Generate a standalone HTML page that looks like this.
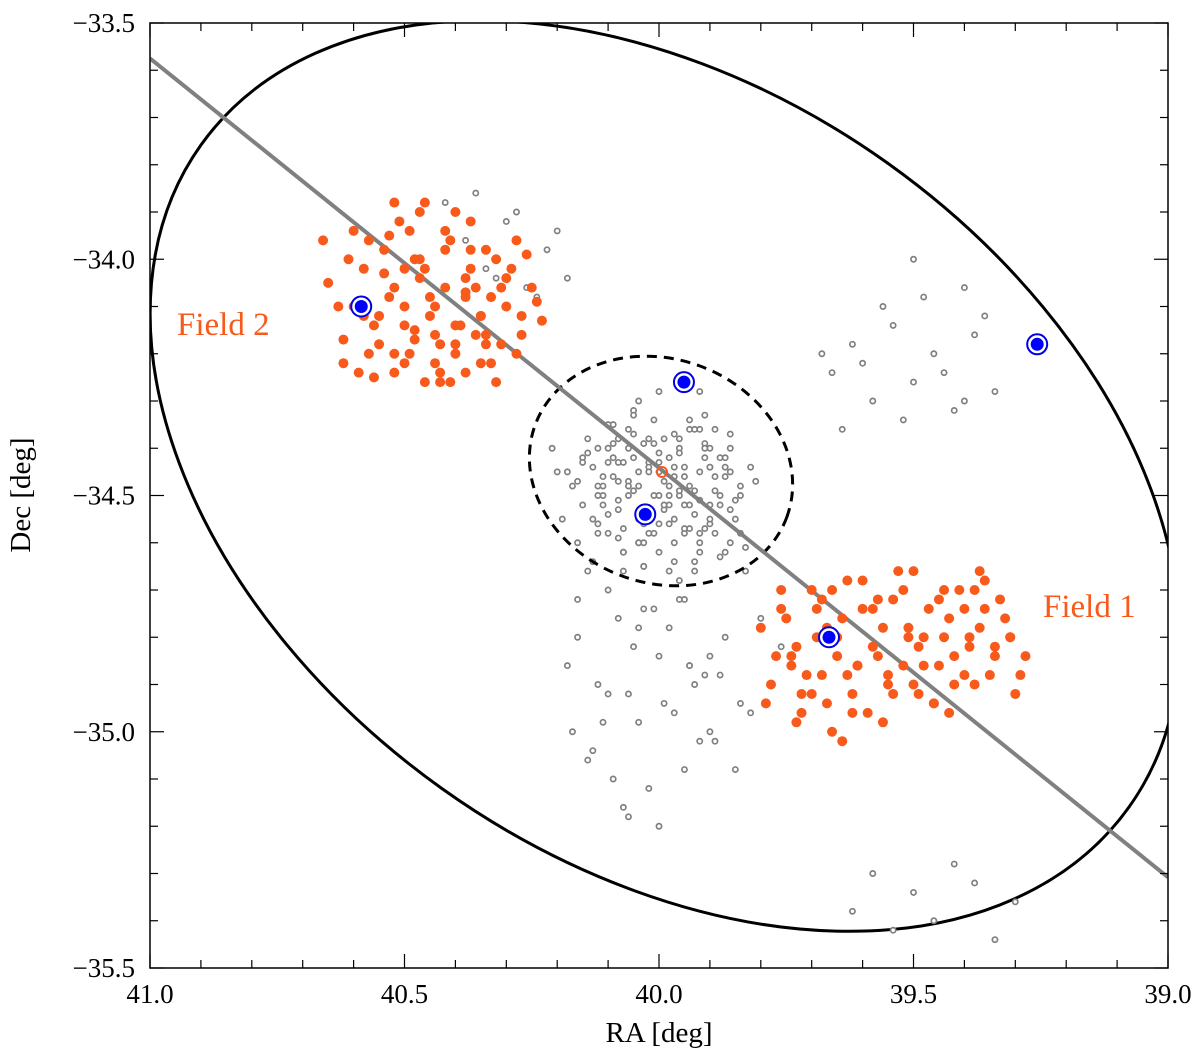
<!DOCTYPE html>
<html><head><meta charset="utf-8"><style>
html,body{margin:0;padding:0;background:#fff;width:1200px;height:1057px;overflow:hidden;}
svg{display:block;font-family:"Liberation Serif",serif;}
</style></head><body>
<svg id="chart" width="1200" height="1057" viewBox="0 0 1200 1057">
<defs><clipPath id="clip"><rect x="150" y="23" width="1018" height="945"/></clipPath></defs>
<g id="plot" clip-path="url(#clip)"></g>
<g id="axes"></g>
</svg>
<script>
const xTicks=[41.0,40.5,40.0,39.5,39.0];
const yTicks=[-33.5,-34.0,-34.5,-35.0,-35.5];
const f2RA=[40.66,40.65,40.62,40.60,40.58,40.57,40.55,40.53,40.52,40.50,40.48,40.47,40.45,40.43,40.42,40.40,40.38,40.37,40.35,40.33,40.32,40.30,40.28,40.27,40.25,40.23,40.62,40.60,40.58,40.56,40.54,40.52,40.50,40.48,40.46,40.44,40.42,40.40,40.38,40.36,40.34,40.32,40.30,40.28,40.26,40.24,40.63,40.61,40.59,40.57,40.55,40.53,40.51,40.49,40.47,40.45,40.43,40.41,40.39,40.37,40.35,40.33,40.31,40.29,40.27,40.56,40.54,40.52,40.50,40.48,40.46,40.44,40.42,40.40,40.38,40.36,40.34,40.50,40.47,40.44,40.41,40.38,40.35,40.52,40.49,40.46,40.43,40.40,40.37,40.34,40.31];
const f2Dec=[-33.96,-34.05,-34.17,-34.10,-34.02,-34.20,-34.12,-33.95,-34.06,-34.22,-34.15,-33.90,-34.08,-34.24,-33.98,-34.18,-34.04,-33.92,-34.12,-34.22,-34.00,-34.10,-33.96,-34.16,-34.06,-34.13,-34.22,-33.94,-34.12,-34.25,-34.03,-33.88,-34.14,-34.00,-34.26,-34.10,-33.94,-34.20,-34.07,-34.16,-33.98,-34.26,-34.04,-34.20,-33.99,-34.09,-34.10,-34.00,-34.24,-33.96,-34.18,-34.08,-33.92,-34.20,-34.04,-34.12,-34.26,-33.96,-34.14,-34.02,-34.22,-34.08,-34.18,-34.02,-34.12,-34.14,-33.98,-34.24,-34.02,-34.17,-33.88,-34.22,-34.06,-33.90,-34.24,-34.06,-34.18,-34.10,-34.00,-34.16,-34.26,-34.08,-34.12,-34.20,-33.94,-34.02,-34.18,-34.14,-33.98,-34.16,-34.06];
const f1RA=[39.80,39.78,39.76,39.74,39.72,39.70,39.68,39.66,39.64,39.62,39.60,39.58,39.56,39.54,39.52,39.50,39.48,39.46,39.44,39.42,39.40,39.38,39.36,39.34,39.32,39.30,39.28,39.77,39.75,39.73,39.71,39.69,39.67,39.65,39.63,39.61,39.59,39.57,39.55,39.53,39.51,39.49,39.47,39.45,39.43,39.41,39.39,39.37,39.35,39.33,39.31,39.29,39.79,39.76,39.73,39.70,39.67,39.64,39.61,39.58,39.55,39.52,39.49,39.46,39.43,39.40,39.37,39.34,39.31,39.72,39.69,39.66,39.63,39.60,39.57,39.54,39.51,39.48,39.45,39.42,39.39,39.36,39.68,39.62,39.56,39.50,39.44,39.38,39.74,39.65];
const f1Dec=[-34.78,-34.90,-34.74,-34.84,-34.96,-34.70,-34.88,-35.00,-34.76,-34.92,-34.68,-34.82,-34.98,-34.72,-34.86,-34.66,-34.80,-34.94,-34.70,-34.84,-34.74,-34.90,-34.68,-34.82,-34.76,-34.92,-34.84,-34.84,-34.76,-34.98,-34.88,-34.74,-34.94,-34.80,-34.68,-34.86,-34.96,-34.72,-34.88,-34.66,-34.80,-34.92,-34.74,-34.86,-34.96,-34.70,-34.82,-34.78,-34.88,-34.72,-34.80,-34.88,-34.94,-34.70,-34.82,-34.92,-34.78,-35.02,-34.86,-34.74,-34.90,-34.70,-34.82,-34.94,-34.76,-34.88,-34.66,-34.84,-34.80,-34.92,-34.80,-34.70,-34.88,-34.74,-34.84,-34.92,-34.78,-34.86,-34.72,-34.90,-34.80,-34.74,-34.72,-34.96,-34.78,-34.90,-34.80,-34.70,-34.86,-34.84];
const gRA=[40.18,40.15,40.12,40.10,40.08,40.06,40.04,40.02,40.00,39.98,39.96,39.94,39.92,39.90,39.88,39.86,39.84,40.16,40.13,40.11,40.09,40.07,40.05,40.03,40.01,39.99,39.97,39.95,39.93,39.91,39.89,39.87,39.85,40.14,40.12,40.10,40.08,40.06,40.04,40.02,40.00,39.98,39.96,39.94,39.92,39.90,39.88,40.17,40.13,40.09,40.05,40.01,39.97,39.93,39.89,40.19,40.11,40.07,40.03,39.99,39.95,39.91,39.87,40.15,40.10,40.05,40.00,39.95,39.90,40.12,40.07,40.02,39.97,39.92,40.08,40.03,39.98,39.93,40.20,40.04,39.96,39.83,39.86,40.21,40.14,40.00,39.92,
40.14,40.11,40.08,40.05,40.02,39.99,39.96,39.93,39.90,39.87,39.84,39.81,40.13,40.10,40.07,40.04,40.01,39.98,39.95,39.92,39.89,39.86,39.83,40.16,40.12,40.09,40.06,40.03,40.00,39.97,39.94,39.91,39.88,39.85,39.82,40.15,40.11,40.08,40.05,40.02,39.99,39.96,39.93,39.90,39.87,39.84,40.12,40.09,40.06,40.03,40.00,39.97,39.94,39.91,39.88,40.10,40.07,40.04,40.01,39.98,39.95,39.92,39.89,39.86,40.06,40.03,40.00,39.97,39.94,39.91,40.08,40.02,39.96,39.90,40.04,39.98,39.92,39.86,
40.16,40.12,40.08,40.04,40.00,39.96,39.92,39.88,39.84,40.14,40.10,40.06,40.02,39.98,39.94,39.90,40.18,40.11,40.03,39.95,39.87,40.07,39.99,39.91,40.13,40.05,39.97,40.09,40.01,39.93,40.17,39.89,40.06,40.16,39.94,39.80,39.78,39.76,39.82,39.85,40.00,39.95,39.90,40.10,40.04,
39.66,39.62,39.58,39.54,39.50,39.46,39.42,39.38,39.34,39.64,39.60,39.56,39.52,39.48,39.44,39.40,39.36,39.68,39.50,39.40,
40.42,40.38,40.34,40.30,40.26,40.22,40.18,40.36,40.28,40.20,40.24,40.32,
39.62,39.58,39.54,39.50,39.46,39.42,39.38,39.34,39.30];
const gDec=[-34.45,-34.52,-34.40,-34.58,-34.47,-34.36,-34.55,-34.43,-34.62,-34.50,-34.38,-34.57,-34.45,-34.52,-34.42,-34.60,-34.48,-34.60,-34.44,-34.50,-34.35,-34.62,-34.42,-34.53,-34.34,-34.47,-34.60,-34.44,-34.54,-34.39,-34.58,-34.46,-34.55,-34.38,-34.56,-34.43,-34.53,-34.40,-34.48,-34.58,-34.41,-34.56,-34.50,-34.34,-34.62,-34.40,-34.50,-34.48,-34.64,-34.46,-34.32,-34.50,-34.44,-34.66,-34.36,-34.55,-34.52,-34.57,-34.65,-34.38,-34.46,-34.33,-34.62,-34.42,-34.40,-34.49,-34.56,-34.58,-34.44,-34.48,-34.66,-34.38,-34.64,-34.51,-34.43,-34.60,-34.52,-34.36,-34.45,-34.30,-34.68,-34.66,-34.40,-34.40,-34.66,-34.28,-34.28,
-34.41,-34.46,-34.51,-34.37,-34.44,-34.53,-34.40,-34.49,-34.56,-34.42,-34.50,-34.47,-34.55,-34.35,-34.43,-34.60,-34.39,-34.48,-34.57,-34.36,-34.46,-34.53,-34.61,-34.47,-34.58,-34.39,-34.50,-34.56,-34.45,-34.37,-34.52,-34.42,-34.63,-34.51,-34.44,-34.43,-34.48,-34.59,-34.33,-34.45,-34.52,-34.41,-34.64,-34.55,-34.44,-34.58,-34.50,-34.42,-34.47,-34.39,-34.50,-34.55,-34.48,-34.40,-34.52,-34.54,-34.62,-34.45,-34.58,-34.42,-34.52,-34.60,-34.49,-34.37,-34.48,-34.65,-34.43,-34.46,-34.36,-34.57,-34.38,-34.53,-34.49,-34.44,-34.60,-34.66,-34.58,-34.45,
-34.80,-34.90,-34.76,-34.98,-34.84,-34.72,-35.02,-34.88,-34.94,-35.06,-34.70,-34.92,-35.12,-34.78,-34.86,-35.00,-34.86,-34.98,-34.74,-35.08,-34.80,-35.16,-34.94,-34.88,-35.04,-34.82,-34.96,-35.10,-34.74,-34.90,-35.00,-35.02,-35.18,-34.72,-34.86,-34.76,-34.90,-34.82,-34.96,-35.08,-35.20,-34.72,-34.84,-34.92,-34.78,
-34.24,-34.18,-34.30,-34.14,-34.26,-34.20,-34.32,-34.16,-34.28,-34.36,-34.22,-34.10,-34.34,-34.08,-34.24,-34.30,-34.12,-34.20,-34.00,-34.06,
-33.88,-33.96,-34.02,-33.92,-34.06,-33.98,-34.04,-33.86,-33.90,-33.94,-34.08,-34.04,
-35.38,-35.30,-35.42,-35.34,-35.40,-35.28,-35.32,-35.44,-35.36];
const blueRA=[40.585,39.951,40.027,39.666,39.257];
const blueDec=[-34.10,-34.26,-34.54,-34.80,-34.18];
const X0=150,X1=1168,Y0=23,Y1=968;
const xs=v=>X0+(41-v)/2*(X1-X0);
const ys=v=>Y0+(-33.5-v)/2*(Y1-Y0);
const NS='http://www.w3.org/2000/svg';
const plot=document.getElementById('plot'),axes=document.getElementById('axes');
function mk(tag,at,parent){const e=document.createElementNS(NS,tag);for(const k in at)e.setAttribute(k,at[k]);parent.appendChild(e);return e;}
let e;
e=mk('ellipse',{cx:665,cy:476,rx:570,ry:384,transform:'rotate(35.5 665 476)',fill:'none',stroke:'#000','stroke-width':3},plot);


for(let i=0;i<gRA.length;i++){e=mk('circle',{cx:xs(gRA[i]),cy:ys(gDec[i]),r:2.6,fill:'#fff',stroke:'#808080','stroke-width':1.7},plot);

}
e=mk('ellipse',{cx:661,cy:471,rx:134,ry:112,transform:'rotate(20 661 471)',fill:'none',stroke:'#000','stroke-width':3,'stroke-dasharray':'10 7'},plot);


e=mk('line',{x1:xs(41),y1:ys(-33.575),x2:xs(39),y2:ys(-35.308),stroke:'#808080','stroke-width':4},plot);


for(let i=0;i<f2RA.length;i++){e=mk('circle',{cx:xs(f2RA[i]),cy:ys(f2Dec[i]),r:5,fill:'#f75a1a'},plot);

}
for(let i=0;i<f1RA.length;i++){e=mk('circle',{cx:xs(f1RA[i]),cy:ys(f1Dec[i]),r:5,fill:'#f75a1a'},plot);

}
e=mk('circle',{cx:662,cy:472,r:5,fill:'none',stroke:'#f75a1a','stroke-width':2},plot);


for(let i=0;i<blueRA.length;i++){
e=mk('circle',{cx:xs(blueRA[i]),cy:ys(blueDec[i]),r:10,fill:'#fff',stroke:'#0000e0','stroke-width':2},plot);


e=mk('circle',{cx:xs(blueRA[i]),cy:ys(blueDec[i]),r:6.5,fill:'#0000ff'},plot);

}
e=mk('rect',{x:X0,y:Y0,width:X1-X0,height:Y1-Y0,fill:'none',stroke:'#000','stroke-width':1.5},axes);


for(let k=0;k<=20;k++){const v=41-k*0.1,x=xs(v),L=(k%5==0)?14:8;
mk('line',{x1:x,y1:Y1,x2:x,y2:Y1-L,stroke:'#000','stroke-width':1.2},axes);
mk('line',{x1:x,y1:Y0,x2:x,y2:Y0+L,stroke:'#000','stroke-width':1.2},axes);
const y=ys(-33.5-k*0.1);
mk('line',{x1:X0,y1:y,x2:X0+L,y2:y,stroke:'#000','stroke-width':1.2},axes);
mk('line',{x1:X1,y1:y,x2:X1-L,y2:y,stroke:'#000','stroke-width':1.2},axes);}
xTicks.forEach(v=>{e=mk('text',{x:xs(v),y:1003,'text-anchor':'middle','font-size':27},axes);e.textContent=v.toFixed(1);

});
yTicks.forEach(v=>{e=mk('text',{x:135,y:ys(v)+9,'text-anchor':'end','font-size':27},axes);e.textContent='\u2212'+Math.abs(v).toFixed(1);

});
e=mk('text',{x:659,y:1042,'text-anchor':'middle','font-size':29},axes);e.textContent='RA [deg]';


e=mk('text',{x:30,y:495,'text-anchor':'middle','font-size':29,transform:'rotate(-90 30 495)'},axes);e.textContent='Dec [deg]';


e=mk('text',{x:177,y:335,'font-size':33,fill:'#f75a1a'},axes);e.textContent='Field 2';


e=mk('text',{x:1043,y:617,'font-size':33,fill:'#f75a1a'},axes);e.textContent='Field 1';


</script>
</body></html>
